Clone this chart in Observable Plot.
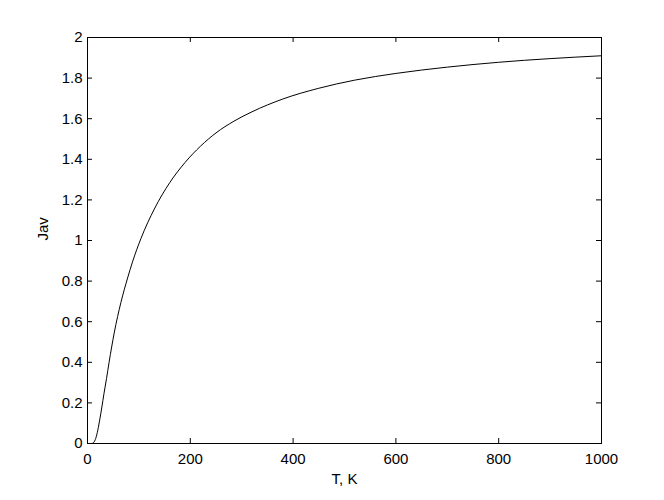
<!DOCTYPE html>
<html>
<head>
<meta charset="utf-8">
<script src="https://cdn.jsdelivr.net/npm/d3@7"></script>
<script src="https://cdn.jsdelivr.net/npm/@observablehq/plot@0.6"></script>
<style>
  html, body { margin: 0; padding: 0; background: #fff; }
  #chart { width: 664px; height: 500px; }
</style>
</head>
<body>
<div id="chart"></div>
<script>
const temperatures = [0, 8, 12, 16, 20, 24, 28, 32, 37, 42, 52, 65, 78, 88, 104, 130, 160, 190, 220, 250, 285, 320, 380, 450, 520, 600, 700, 800, 900, 1000];
const javValues   = [0, 0, 0.005, 0.025, 0.065, 0.12, 0.18, 0.245, 0.32, 0.40, 0.545, 0.695, 0.815, 0.898, 1.01, 1.155, 1.285, 1.385, 1.465, 1.53, 1.588, 1.634, 1.697, 1.750, 1.790, 1.823, 1.854, 1.878, 1.896, 1.910];
const xTicks = [0, 200, 400, 600, 800, 1000];
const yTicks = [0, 0.2, 0.4, 0.6, 0.8, 1, 1.2, 1.4, 1.6, 1.8, 2];
const xLabel = "T, K";
const yLabel = "Jav";

const data = temperatures.map((t, i) => ({T: t, J: javValues[i]}));

const W = 664, H = 500;
const mL = 87, mR = 63, mT = 37, mB = 57;
const frameW = W - mL - mR, frameH = H - mT - mB;
const tick = 5;

const chart = Plot.plot({
  width: W,
  height: H,
  marginLeft: mL,
  marginRight: mR,
  marginTop: mT,
  marginBottom: mB,
  style: {fontFamily: "'Liberation Sans', Arial, Helvetica, sans-serif", fontSize: "15px", color: "#000", background: "#fff"},
  x: {domain: [0, 1000], ticks: xTicks},
  y: {domain: [0, 2], ticks: yTicks},
  marks: [
    Plot.frame({stroke: "#000", strokeWidth: 1}),
    Plot.axisX(xTicks, {tickSize: 0, tickPadding: 10, label: null, tickFormat: d => String(d)}),
    Plot.axisY(yTicks, {tickSize: 0, tickPadding: 5, label: null, tickFormat: d => String(d)}),
    Plot.tickX(xTicks, {x: d => d, insetTop: frameH - tick, stroke: "#000"}),
    Plot.tickX(xTicks, {x: d => d, insetBottom: frameH - tick, stroke: "#000"}),
    Plot.tickY(yTicks, {y: d => d, insetRight: frameW - tick, stroke: "#000"}),
    Plot.tickY(yTicks, {y: d => d, insetLeft: frameW - tick, stroke: "#000"}),
    Plot.line(data, {x: "T", y: "J", stroke: "#000", strokeWidth: 1, curve: "monotone-x"}),
    Plot.text([xLabel], {frameAnchor: "bottom", text: d => d, lineAnchor: "top", dy: 30, fill: "#000"}),
    Plot.text([yLabel], {frameAnchor: "left", text: d => d, rotate: -90, dx: -44, fill: "#000"})
  ]
});
document.getElementById("chart").appendChild(chart);
</script>
</body>
</html>
